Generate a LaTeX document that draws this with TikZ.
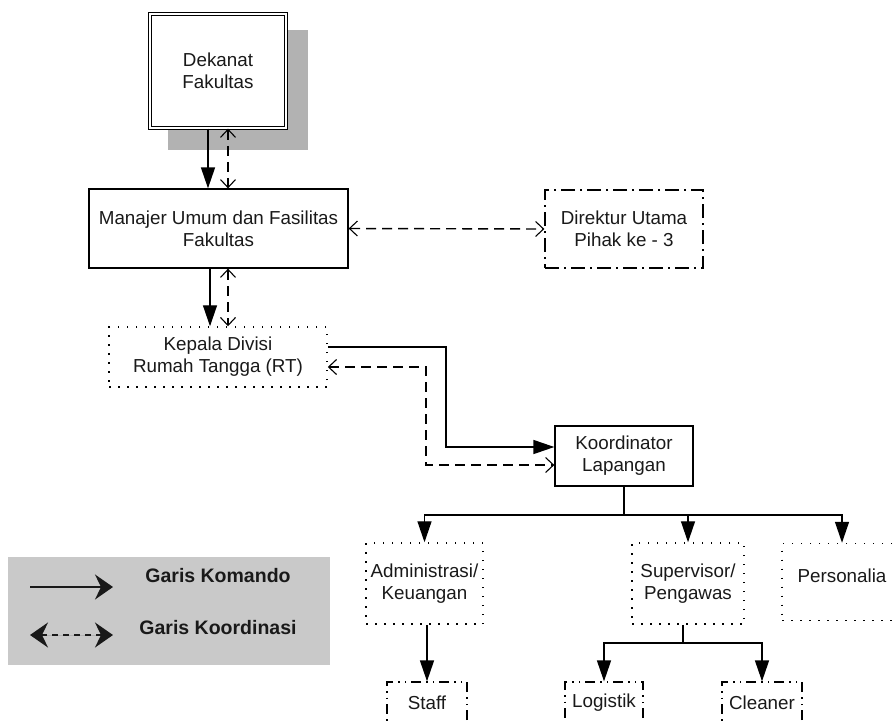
\documentclass[tikz,border=0pt]{standalone}
\usepackage{fontspec}
\setmainfont{Liberation Sans}
\usetikzlibrary{arrows.meta,calc}
\definecolor{shadowgray}{gray}{0.70}
\definecolor{legendgray}{gray}{0.79}
\definecolor{inkdark}{gray}{0.1}
\tikzset{
  legendtip/.tip={Stealth[length=18pt,width=25pt,inset=6pt]},
  barbtip/.tip={Straight Barb[length=8pt,width=15pt,line width=1.1pt]},
}
\begin{document}
\begin{tikzpicture}[x=1pt,y=-1pt,
  box/.style={rectangle, inner sep=0pt, align=center,
    font=\fontsize{18.8}{22}\selectfont, text=inkdark, line width=1.3pt},
  solidbox/.style={box, draw},
  dotbox/.style={box, draw, line width=1.5pt, dash pattern=on 1.5pt off 7.5pt},
  dashdotbox/.style={box, draw, dash pattern=on 14pt off 5pt on 2pt off 5pt},
  dashdotdotbox/.style={box, draw, dash pattern=on 10pt off 5pt on 1.5pt off 5pt on 1.5pt off 5pt},
  cmd/.style={line width=1.4pt, -{Triangle[length=21pt,width=14pt]}},
  plainline/.style={line width=1.4pt},
  coord/.style={line width=1.4pt, dash pattern=on 10pt off 6pt, barbtip-barbtip},
  legendtext/.style={font=\bfseries\fontsize{19.5}{22}\selectfont, text=inkdark},
]
\clip (0,0) rectangle (893,721);

% Top: dean's office with drop shadow
\fill[shadowgray] (168,30) rectangle (308,150);
\node[box, draw, fill=white, double, double distance=2.2pt, line width=1.2pt,
      minimum width=136pt, minimum height=114pt] (dek) at (218,71) {Dekanat\\Fakultas};

\node[solidbox, minimum width=259pt, minimum height=79pt] (man) at (218.5,228.5)
  {Manajer Umum dan Fasilitas\\Fakultas};
\node[dashdotbox, minimum width=158pt, minimum height=78pt] (dir) at (624,229)
  {Direktur Utama\\Pihak ke - 3};
\node[dotbox, minimum width=218pt, minimum height=60pt] (kep) at (218,357)
  {Kepala Divisi\\Rumah Tangga (RT)};
\node[solidbox, minimum width=138pt, minimum height=60pt] (koo) at (624,456)
  {Koordinator\\Lapangan};

\node[dotbox, minimum width=117pt, minimum height=81pt] (adm) at (424.5,583.5)
  {Administrasi/\\Keuangan};
\node[dotbox, minimum width=112pt, minimum height=81pt] (sup) at (688,583.5)
  {Supervisor/\\Pengawas};
\node[dotbox, minimum width=120pt, minimum height=77pt, text depth=0pt] (per) at (842,582)
  {\raisebox{12pt}{Personalia}};

\node[dashdotdotbox, minimum width=80pt, minimum height=42pt] (stf) at (427,703) {Staff};
\node[dashdotdotbox, minimum width=78pt, minimum height=42pt] (log) at (604,703) {Logistik};
\node[dashdotdotbox, minimum width=80pt, minimum height=42pt] (cle) at (762,703) {Cleaner};

% Command and coordination lines
\draw[cmd] ([xshift=-10pt]dek.south) -- ([xshift=-10pt]dek.south |- man.north);
\draw[coord] ([xshift=10pt]dek.south) -- ([xshift=10pt]dek.south |- man.north);
\draw[cmd] ([xshift=-8.5pt]man.south) -- ([xshift=-8.5pt]man.south |- kep.north);
\draw[coord] ([xshift=9.5pt]man.south) -- ([xshift=9.5pt]man.south |- kep.north);
\draw[coord] (man.east) -- (dir.west);

\draw[cmd] ([yshift=10pt]kep.east) -| (446,400) |- ([yshift=9pt]koo.west);
\draw[coord] ([yshift=-10pt]kep.east) -| (426,420) |- ([yshift=-9pt]koo.west);

\coordinate (busK) at (624,515);
\draw[plainline] (koo.south) -- (busK);
\draw[cmd] (busK) -| (adm.north);
\draw[cmd] (busK) -| (sup.north);
\draw[cmd] (busK) -| (per.north);

\draw[cmd] (adm.south -| stf.north) -- (stf.north);

\coordinate (busS) at (683,643);
\draw[plainline] ([xshift=-5pt]sup.south) -- (busS);
\draw[cmd] (busS) -| (log.north);
\draw[cmd] (busS) -| (cle.north);

% Legend
\fill[legendgray] (8,557) rectangle (330,665);
\coordinate (lk1) at (30,587);
\coordinate (lk2) at (113,587);
\coordinate (lc1) at (30,635);
\coordinate (lc2) at (113,635);
\draw[line width=1.9pt, draw=inkdark, fill=inkdark, -legendtip] (lk1) -- (lk2);
\draw[line width=1.9pt, draw=inkdark, fill=inkdark, dash pattern=on 6pt off 5pt,
  legendtip-legendtip] (lc1) -- (lc2);
\node[legendtext] (lt1) at (218,576) {Garis Komando};
\node[legendtext] (lt2) at (218,628) {Garis Koordinasi};
\end{tikzpicture}
\end{document}
